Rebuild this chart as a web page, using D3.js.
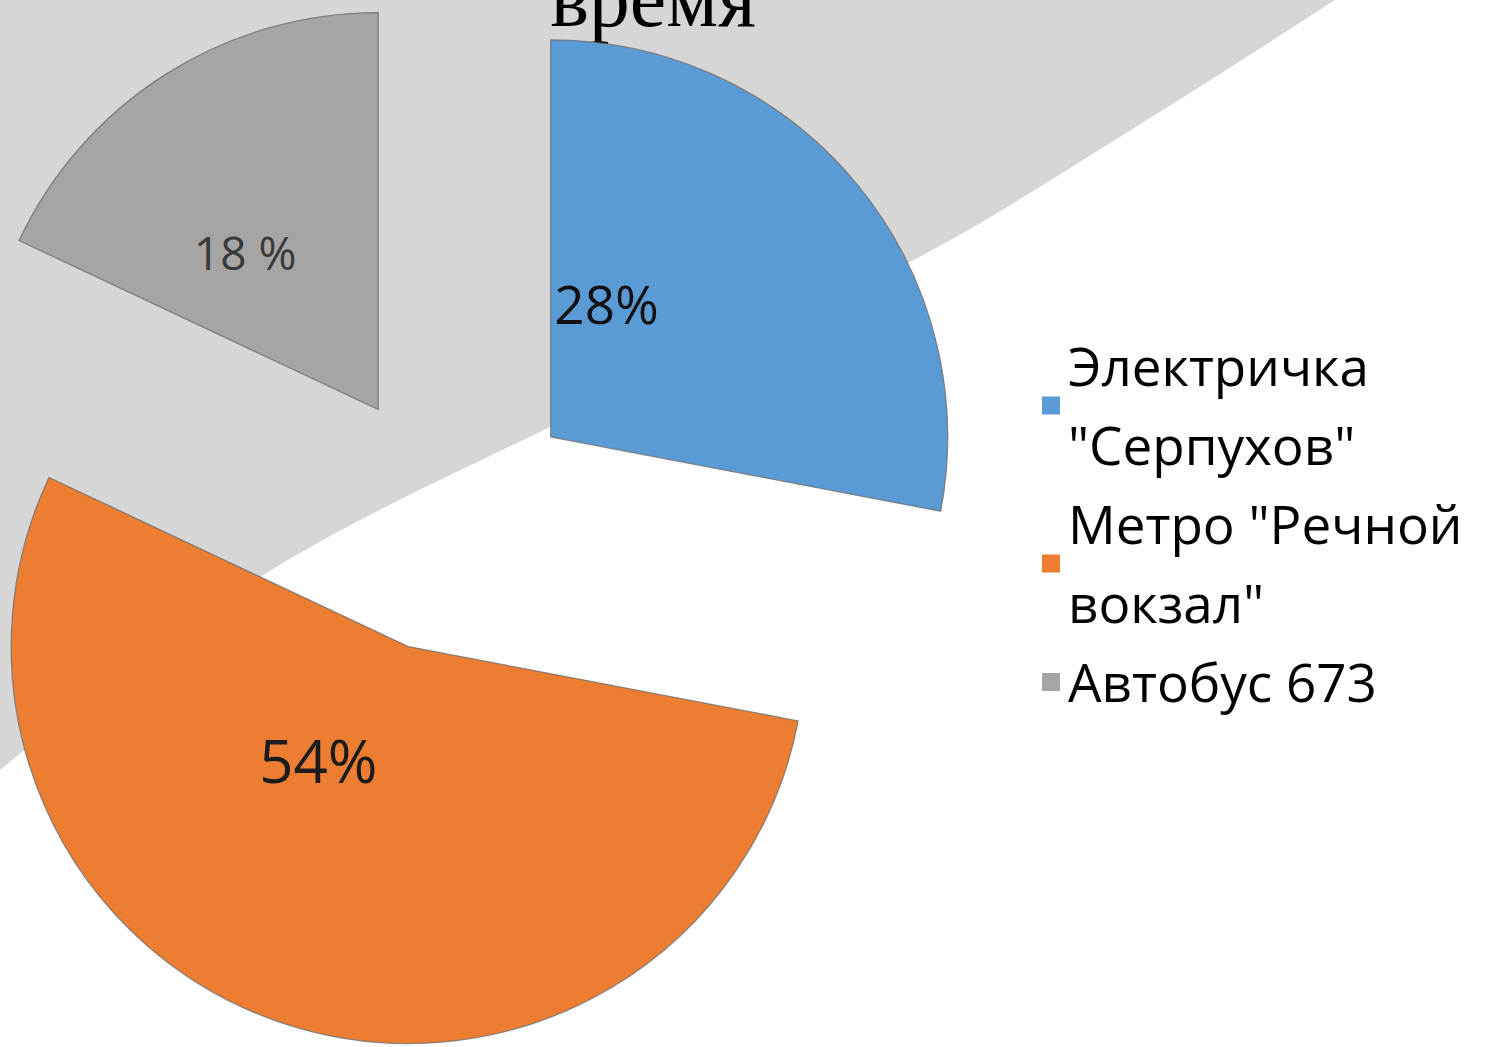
<!DOCTYPE html>
<html>
<head>
<meta charset="utf-8">
<script src="https://cdn.jsdelivr.net/npm/d3@7"></script>
<style>
  html, body { margin: 0; padding: 0; background: #fff; overflow: hidden; }
  svg { display: block; }
</style>
</head>
<body>
<div id="chart"></div>
<script>
// chart data
var categories = ["Электричка \"Серпухов\"", "Метро \"Речной вокзал\"", "Автобус 673"];
var values = [28, 54, 18];
var valueLabels = ["28%", "54%", "18 %"];
var colors = ["#5b9bd5", "#ed7d31", "#a5a5a5"];
var titleText = "время";

var width = 1488,
    height = 1047;

var svg = d3.select("#chart")
  .append("svg")
  .attr("width", width)
  .attr("height", height);

// slide background: grey sweep top-left, white bottom-right
var sweepEdge = [[1335, 0], [1150, 118], [910, 262], [550, 427], [260, 577], [0, 770]];
var edgePath = d3.line().curve(d3.curveCatmullRom)(sweepEdge);
svg.append("path")
  .attr("d", edgePath + "L0,0Z")
  .attr("fill", "#d6d6d6");

// title (only the last word is visible, cut by the top edge)
svg.append("text")
  .attr("x", 653)
  .attr("y", 26)
  .attr("text-anchor", "middle")
  .style("font-family", "'Liberation Serif', 'Times New Roman', serif")
  .style("font-size", "82px")
  .style("fill", "#000")
  .text(titleText);

// pie
var cx = 449, cy = 521, radius = 397, explode = 132;

var pie = d3.pie().sort(null).value(function(d) { return d; });
var arcs = pie(values);
var arc = d3.arc().innerRadius(0).outerRadius(radius);

function midAngle(d) { return (d.startAngle + d.endAngle) / 2; }

var pieGroup = svg.append("g")
  .attr("transform", "translate(" + cx + "," + cy + ")");

var slices = pieGroup.selectAll("g.slice")
  .data(arcs)
  .enter()
  .append("g")
  .attr("class", "slice")
  .attr("transform", function(d) {
    var a = midAngle(d);
    return "translate(" + (explode * Math.sin(a)) + "," + (-explode * Math.cos(a)) + ")";
  });

slices.append("path")
  .attr("d", arc)
  .attr("fill", function(d, i) { return colors[i]; })
  .attr("stroke", "#6f6f6f")
  .attr("stroke-width", 1.3)
  .attr("stroke-opacity", 0.8);

// label placement per slice (angle in degrees from 12 o'clock, distance from apex)
var labelLayout = [
  { angle: 23, dist: 143, size: 53, color: "#111" },
  { angle: 218, dist: 146, size: 60, color: "#1c1c1c" },
  { angle: 319.5, dist: 205, size: 46, color: "#3a3a3a" }
];

slices.append("text")
  .attr("x", function(d, i) { return labelLayout[i].dist * Math.sin(labelLayout[i].angle * Math.PI / 180); })
  .attr("y", function(d, i) { return -labelLayout[i].dist * Math.cos(labelLayout[i].angle * Math.PI / 180); })
  .attr("dy", "0.36em")
  .attr("text-anchor", "middle")
  .style("font-family", "'Open Sans', 'Noto Sans', sans-serif")
  .style("font-size", function(d, i) { return labelLayout[i].size + "px"; })
  .style("fill", function(d, i) { return labelLayout[i].color; })
  .text(function(d, i) { return valueLabels[i]; });

// legend
var legendX = 1042, textX = 1068, firstBaseline = 386, lineStep = 79, maxTextWidth = 418;
var legend = svg.append("g").attr("class", "legend");

var measure = svg.append("text")
  .style("font-family", "'Open Sans', 'Noto Sans', sans-serif")
  .style("font-size", "53px")
  .attr("visibility", "hidden");

function wrapWords(str) {
  var words = str.split(" "), lines = [], cur = "";
  words.forEach(function(w) {
    var test = cur ? cur + " " + w : w;
    measure.text(test);
    if (cur && measure.node().getComputedTextLength() > maxTextWidth) {
      lines.push(cur);
      cur = w;
    } else {
      cur = test;
    }
  });
  if (cur) lines.push(cur);
  return lines;
}

var lineIndex = 0;
categories.forEach(function(cat, i) {
  var lines = wrapWords(cat);
  var baselines = lines.map(function(l, k) { return firstBaseline + (lineIndex + k) * lineStep; });
  var centerY = d3.mean(baselines) - 20;

  legend.append("rect")
    .attr("x", legendX)
    .attr("y", centerY - 9)
    .attr("width", 18)
    .attr("height", 18)
    .attr("fill", colors[i]);

  lines.forEach(function(l, k) {
    legend.append("text")
      .attr("x", textX)
      .attr("y", baselines[k])
      .style("font-family", "'Open Sans', 'Noto Sans', sans-serif")
      .style("font-size", "53px")
      .style("fill", "#000")
      .text(l);
  });
  lineIndex += lines.length;
});

measure.remove();
</script>
</body>
</html>
